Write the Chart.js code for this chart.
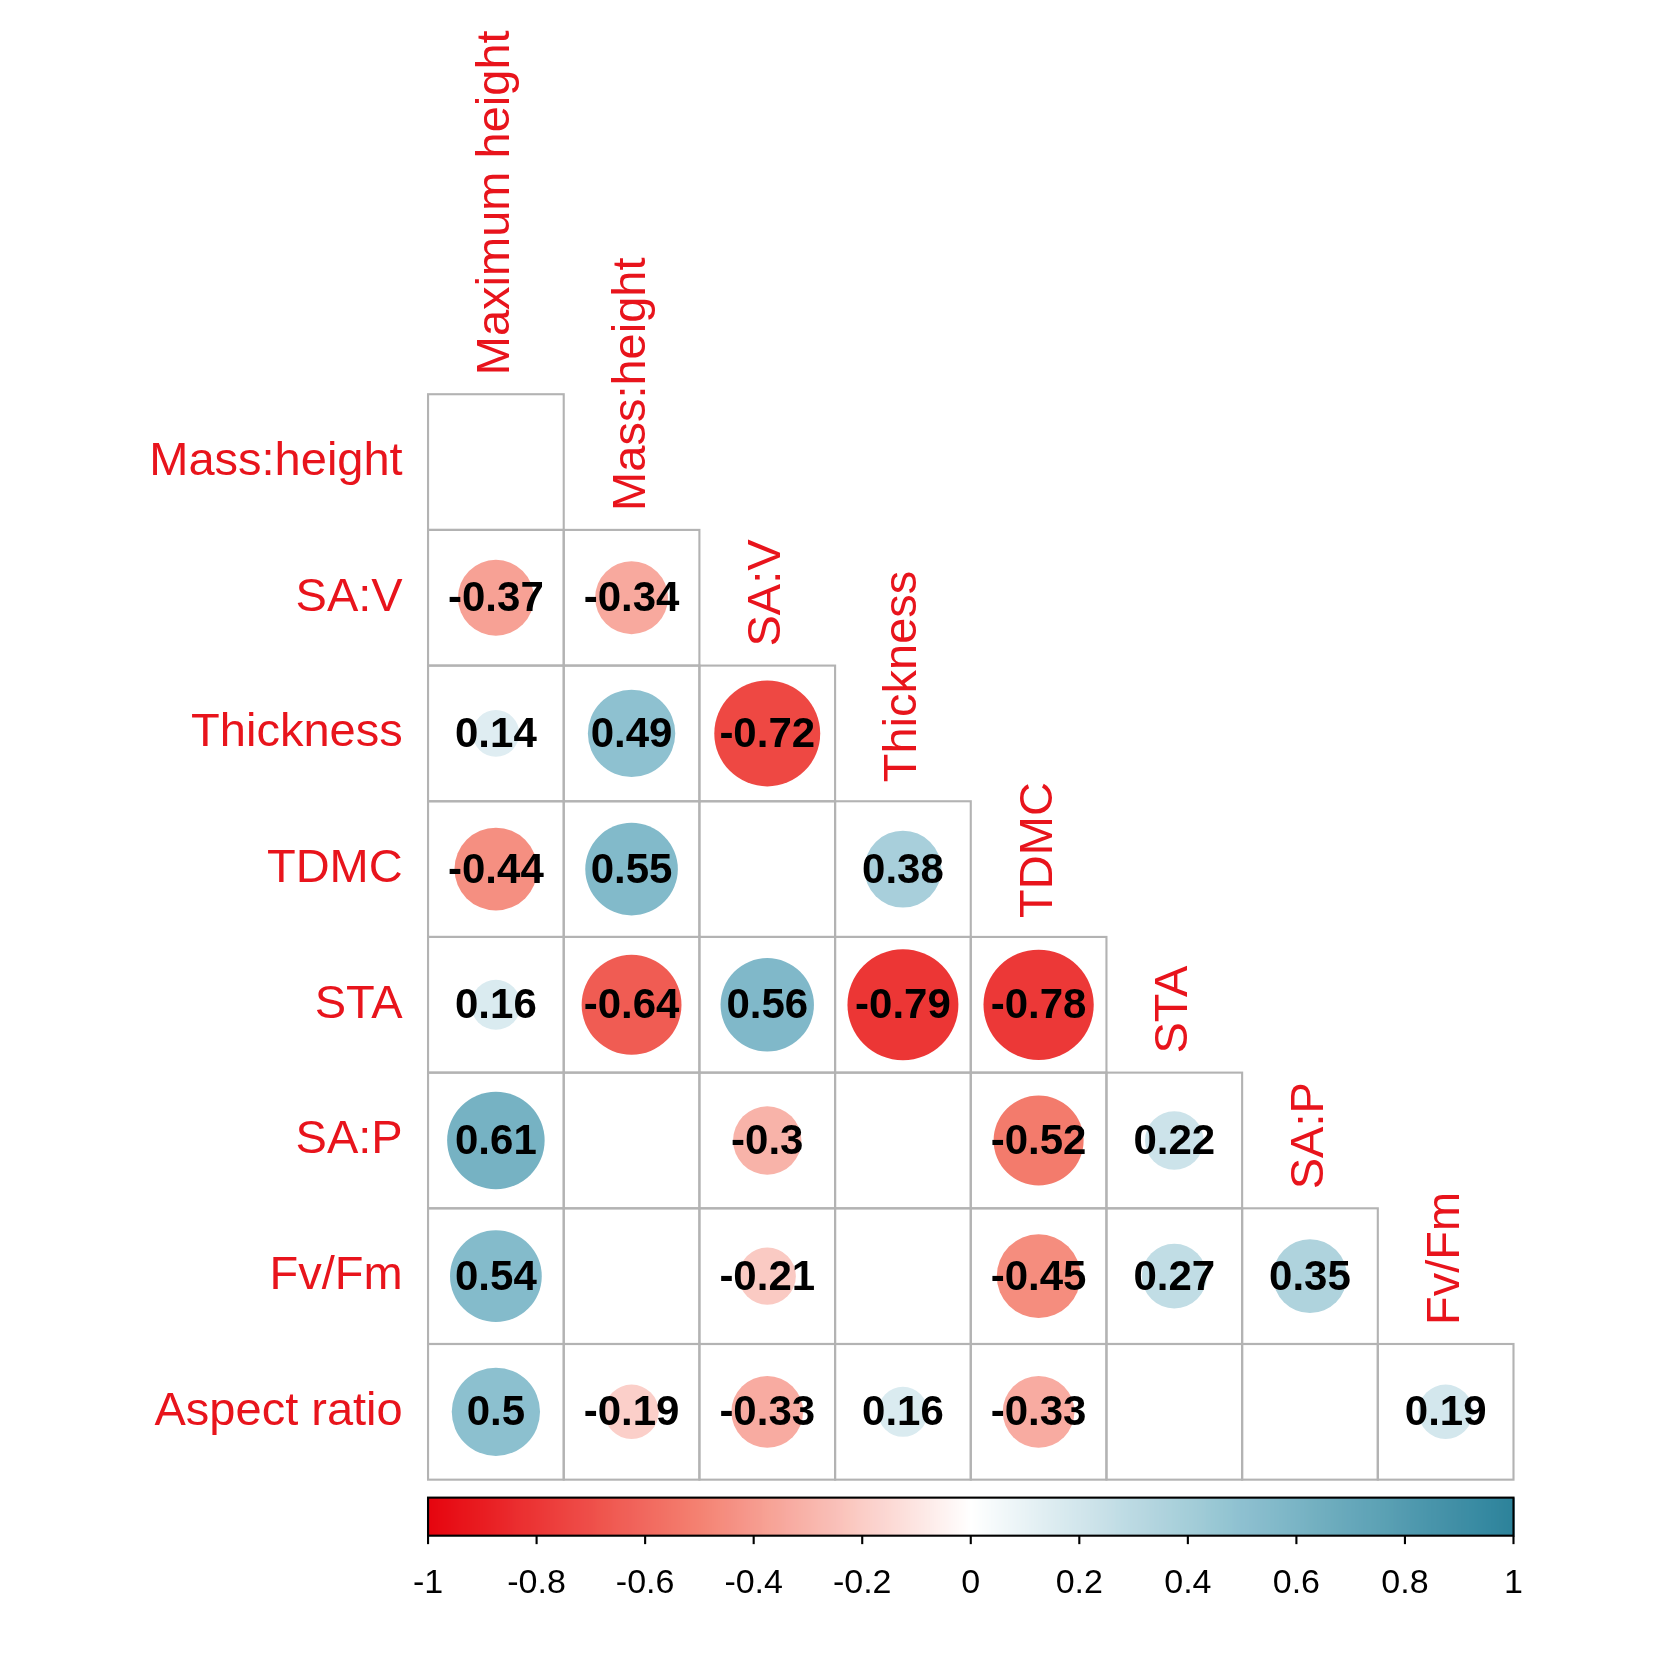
<!DOCTYPE html>
<html><head><meta charset="utf-8">
<script src="https://cdn.jsdelivr.net/npm/chart.js@4/dist/chart.umd.min.js"></script>
<style>html,body{margin:0;padding:0;background:#fff}</style>
</head><body>
<canvas id="c" width="1653" height="1653" style="width:1653px;height:1653px"></canvas>
<script>
const colLabels = ["Maximum height","Mass:height","SA:V","Thickness","TDMC","STA","SA:P","Fv/Fm"];
const rowLabels = ["Mass:height","SA:V","Thickness","TDMC","STA","SA:P","Fv/Fm","Aspect ratio"];
const corr = [
  [null],
  [-0.37,-0.34],
  [0.14,0.49,-0.72],
  [-0.44,0.55,null,0.38],
  [0.16,-0.64,0.56,-0.79,-0.78],
  [0.61,null,-0.3,null,-0.52,0.22],
  [0.54,null,-0.21,null,-0.45,0.27,0.35],
  [0.5,-0.19,-0.33,0.16,-0.33,null,null,0.19]
];
const cbTicks = [-1,-0.8,-0.6,-0.4,-0.2,0,0.2,0.4,0.6,0.8,1];
const K = 1653/1564;

const stops = [[-1,[230,0,10]],[-0.5,[244,128,112]],[0,[255,255,255]],[0.5,[140,192,207]],[1,[40,128,153]]];
function col(v){
  for(let i=0;i<stops.length-1;i++){
    const [a,ca]=stops[i],[b,cb]=stops[i+1];
    if(v>=a&&v<=b){const t=(v-a)/(b-a);
      return `rgb(${ca.map((c,k)=>Math.round(c+(cb[k]-c)*t)).join(',')})`;}
  }
  return 'rgb(40,128,153)';
}
const pts=[];
corr.forEach((row,i)=>row.forEach((v,j)=>{ if(v!==null) pts.push({x:j+0.5,y:i+0.5,v}); }));

const RED='#E8141C';
const plugin={
  id:'corr',
  beforeDatasetsDraw(chart){
    const ctx=chart.ctx,xs=chart.scales.x,ys=chart.scales.y;
    ctx.save();ctx.strokeStyle='#b3b3b3';ctx.lineWidth=2*K;
    corr.forEach((row,i)=>row.forEach((v,j)=>{
      const x0=xs.getPixelForValue(j),x1=xs.getPixelForValue(j+1);
      const y0=ys.getPixelForValue(i),y1=ys.getPixelForValue(i+1);
      ctx.strokeRect(x0,y0,x1-x0,y1-y0);
    }));
    const cw=(xs.right-xs.left)/8;
    pts.forEach(p=>{
      ctx.beginPath();
      ctx.arc(xs.getPixelForValue(p.x),ys.getPixelForValue(p.y),Math.sqrt(Math.abs(p.v))*cw/2*0.92,0,Math.PI*2);
      ctx.fillStyle=col(p.v);ctx.fill();
    });
    ctx.restore();
  },
  afterDatasetsDraw(chart){
    const ctx=chart.ctx,xs=chart.scales.x,ys=chart.scales.y;
    ctx.save();
    ctx.font=`bold ${Math.round(40*K)}px "Liberation Sans", Arial`;ctx.fillStyle='#000';
    ctx.textAlign='center';ctx.textBaseline='middle';
    pts.forEach(p=>ctx.fillText(String(p.v),xs.getPixelForValue(p.x),ys.getPixelForValue(p.y)+2));
    ctx.font=`${Math.round(44*K)}px "Liberation Sans", Arial`;ctx.fillStyle=RED;ctx.textAlign='right';
    rowLabels.forEach((l,i)=>ctx.fillText(l,381*K,ys.getPixelForValue(i+0.5)));
    colLabels.forEach((l,j)=>{
      ctx.save();
      ctx.translate(xs.getPixelForValue(j+0.5),ys.getPixelForValue(j)-18*K);
      ctx.rotate(-Math.PI/2);ctx.textAlign='left';ctx.textBaseline='middle';
      ctx.fillText(l,0,0);ctx.restore();
    });
    const L=xs.left,R=xs.right,W=R-L,top=1417*K,h=36*K;
    for(let px=0;px<W;px++){ctx.fillStyle=col(-1+2*px/W);ctx.fillRect(L+px,top,1.5,h);}
    ctx.strokeStyle='#000';ctx.lineWidth=2*K;ctx.strokeRect(L,top,W,h);
    ctx.fillStyle='#000';ctx.font=`${Math.round(32*K)}px "Liberation Sans", Arial`;ctx.textAlign='center';ctx.textBaseline='middle';
    cbTicks.forEach(t=>{
      const x=L+(t+1)/2*W;
      ctx.beginPath();ctx.moveTo(x,top+h);ctx.lineTo(x,top+h+8*K);ctx.stroke();
      ctx.fillText(String(t),x,1498*K);
    });
    ctx.restore();
  }
};

new Chart(document.getElementById('c'),{
  type:'bubble',
  data:{datasets:[{data:pts,backgroundColor:'rgba(0,0,0,0)',borderWidth:0,radius:0,hoverRadius:0}]},
  options:{responsive:false,animation:false,
    layout:{padding:{left:405*K,right:1653-1432*K,top:373*K,bottom:1653-1400*K}},
    plugins:{legend:{display:false},tooltip:{enabled:false}},
    scales:{x:{type:'linear',min:0,max:8,display:false},y:{type:'linear',min:0,max:8,reverse:true,display:false}}},
  plugins:[plugin]
});
</script>
</body></html>
